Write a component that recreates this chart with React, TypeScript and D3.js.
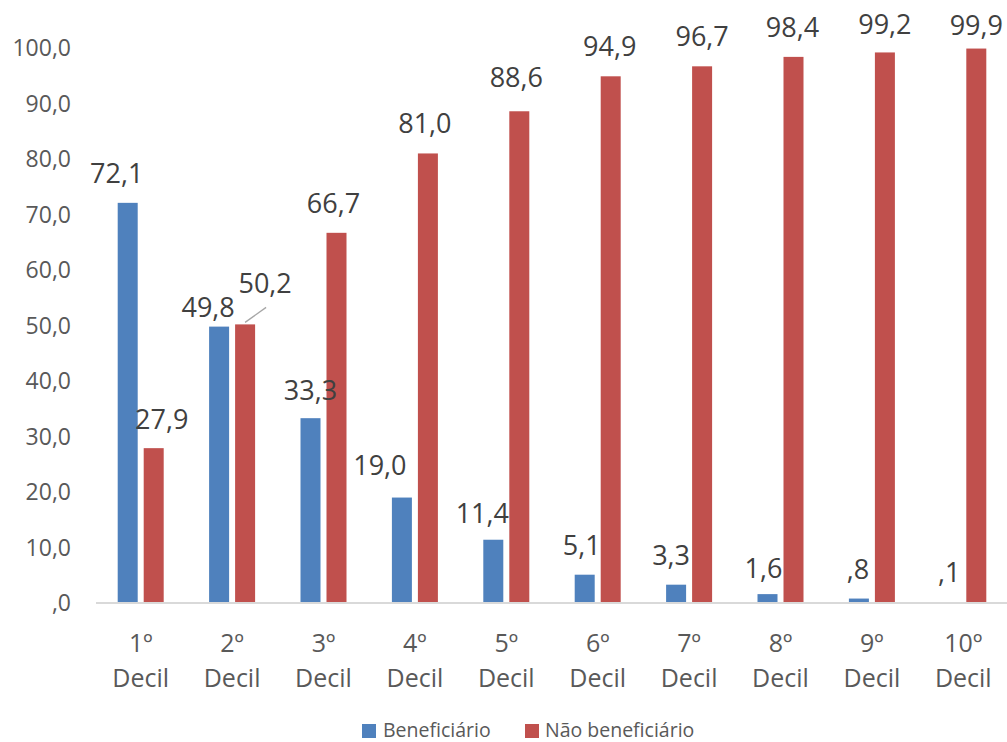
import React from "react";
import * as d3 from "d3";

const categories = ["1º Decil", "2º Decil", "3º Decil", "4º Decil", "5º Decil", "6º Decil", "7º Decil", "8º Decil", "9º Decil", "10º Decil"];
const seriesNames = ["Beneficiário", "Não beneficiário"];
const beneficiario = [72.1, 49.8, 33.3, 19.0, 11.4, 5.1, 3.3, 1.6, 0.8, 0.1];
const naoBeneficiario = [27.9, 50.2, 66.7, 81.0, 88.6, 94.9, 96.7, 98.4, 99.2, 99.9];
const yTicks = [0, 10, 20, 30, 40, 50, 60, 70, 80, 90, 100];
const colors = ["#4F81BD", "#C0504D"];

// label nudges (pixels) for data labels as placed in the reference
const benefLabelDx = [-11, -11, 0, -22, -11, -3, -5, -4, -1, -1];
const benefLabelDy = [0, 10, 2, -3, 3, 0, 0, 4, 0, 0];
const naoLabelDx = [8, 20, -3, -3, -3, -1, 0, -1, 0, 0];
const naoLabelDy = [1, -11, 0, 0, -4, 0, 0, 0, 2, 6];

const W = 1007;
const H = 742;

const fmt = (v: number) => {
  const s = v.toFixed(1).replace(".", ",");
  return s.startsWith("0,") ? s.slice(1) : s;
};

export default function App() {
  const x0 = d3.scaleBand<string>().domain(categories).range([95, 1009]).paddingInner(0).paddingOuter(0);
  const bw = x0.bandwidth();
  const x1 = d3.scaleBand<string>().domain(seriesNames).range([bw / 2 - 23, bw / 2 + 23]).paddingInner(6 / 26);
  const y = d3.scaleLinear().domain([0, 100]).range([603, 48]);
  const font = "'Open Sans', sans-serif";
  const series = [beneficiario, naoBeneficiario];
  const dxs = [benefLabelDx, naoLabelDx];
  const dys = [benefLabelDy, naoLabelDy];

  return (
    <svg width={W} height={H} style={{ position: "absolute", left: 0, top: 0, background: "#fff" }} fontFamily={font}>
      {/* y tick labels */}
      {yTicks.map((t) => (
        <text key={t} x={71} y={y(t)} dy="0.36em" textAnchor="end" fontSize={23} fill="#595959">
          {fmt(t)}
        </text>
      ))}
      {/* bars */}
      {series.map((vals, si) =>
        vals.map((v, i) => (
          <rect
            key={`${si}-${i}`}
            x={(x0(categories[i]) as number) + (x1(seriesNames[si]) as number)}
            y={y(v)}
            width={x1.bandwidth()}
            height={y(0) - y(v)}
            fill={colors[si]}
          />
        ))
      )}
      {/* baseline */}
      <line x1={96} x2={W} y1={y(0)} y2={y(0)} stroke="#D9D9D9" strokeWidth={2} />
      {/* leader line for 2º Decil non-beneficiary label */}
      <line
        x1={(x0(categories[1]) as number) + (x1(seriesNames[1]) as number) + x1.bandwidth() / 2}
        y1={y(naoBeneficiario[1]) - 2}
        x2={(x0(categories[1]) as number) + (x1(seriesNames[1]) as number) + x1.bandwidth() / 2 + 21}
        y2={y(naoBeneficiario[1]) - 17}
        stroke="#A6A6A6"
        strokeWidth={1.3}
      />
      {/* data labels */}
      {series.map((vals, si) =>
        vals.map((v, i) => (
          <text
            key={`l${si}-${i}`}
            x={(x0(categories[i]) as number) + (x1(seriesNames[si]) as number) + x1.bandwidth() / 2 + dxs[si][i]}
            y={y(v) - 20 + dys[si][i]}
            textAnchor="middle"
            fontSize={27}
            fill="#404040"
          >
            {fmt(v)}
          </text>
        ))
      )}
      {/* category labels */}
      {categories.map((c) => {
        const [a, b] = c.split(" ");
        const cx = (x0(c) as number) + bw / 2;
        return (
          <text key={c} x={cx} textAnchor="middle" fontSize={25} fill="#595959">
            <tspan x={cx} y={652}>{a}</tspan>
            <tspan x={cx} y={687}>{b}</tspan>
          </text>
        );
      })}
      {/* legend */}
      <rect x={362} y={724} width={14} height={14} fill={colors[0]} />
      <text x={383} y={737} fontSize={19.5} fill="#595959">{seriesNames[0]}</text>
      <rect x={525} y={724} width={14} height={14} fill={colors[1]} />
      <text x={545} y={737} fontSize={19.5} fill="#595959">{seriesNames[1]}</text>
    </svg>
  );
}
